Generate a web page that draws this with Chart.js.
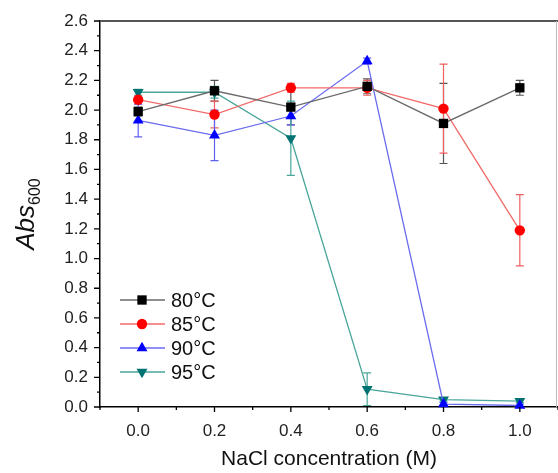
<!DOCTYPE html>
<html>
<head>
<meta charset="utf-8">
<script src="https://cdn.jsdelivr.net/npm/chart.js@4.4.1/dist/chart.umd.min.js"></script>
<style>
  html, body { margin: 0; padding: 0; background: #fff; }
</style>
</head>
<body>
<canvas id="chart" width="558" height="473"></canvas>
<script>
// NaCl concentration (M)
const nacl = [0.0, 0.2, 0.4, 0.6, 0.8, 1.0];

// Abs600 per temperature
const abs80 = [1.99, 2.13, 2.02, 2.16, 1.91, 2.15];
const abs85 = [2.07, 1.97, 2.15, 2.15, 2.01, 1.19];
const abs90 = [1.93, 1.83, 1.96, 2.33, 0.02, 0.01];
const abs95 = [2.12, 2.12, 1.81, 0.12, 0.05, 0.04];

// error bars (+/-)
const err80 = [0.03, 0.07, 0.12, 0.05, 0.27, 0.05];
const err85 = [0.03, 0.09, 0.03, 0.05, 0.30, 0.24];
const err90 = [0.11, 0.17, 0.06, 0.02, 0.01, 0.01];
const err95 = [0.02, 0.04, 0.25, 0.11, 0.01, 0.01];

const seriesLabels = ["80°C", "85°C", "90°C", "95°C"];
const xTicks = [0.0, 0.2, 0.4, 0.6, 0.8, 1.0];
const xMinorTicks = [-0.1, 0.1, 0.3, 0.5, 0.7, 0.9, 1.1];
const yTicks = [0.0, 0.2, 0.4, 0.6, 0.8, 1.0, 1.2, 1.4, 1.6, 1.8, 2.0, 2.2, 2.4, 2.6];
const yMinorTicks = [0.1, 0.3, 0.5, 0.7, 0.9, 1.1, 1.3, 1.5, 1.7, 1.9, 2.1, 2.3, 2.5];

const FONT = "'Liberation Sans', Arial, sans-serif";

// series styling
const styles = [
  { line: "#6a6a6a", mark: "#000000", err: "#555555", shape: "rect", radius: 6.6, rot: 0 },
  { line: "#f26b6b", mark: "#ff0000", err: "#f06060", shape: "circle", radius: 5.2, rot: 0 },
  { line: "#6b6bf0", mark: "#0000ff", err: "#6060f0", shape: "triangle", radius: 6.3, rot: 0 },
  { line: "#4aa69a", mark: "#007272", err: "#4aa69a", shape: "triangle", radius: 6.3, rot: 180 },
];

const values = [abs80, abs85, abs90, abs95];
const errors = [err80, err85, err90, err95];

const datasets = values.map((vals, i) => ({
  label: seriesLabels[i],
  data: nacl.map((x, j) => ({ x: x, y: vals[j] })),
  errors: errors[i],
  borderColor: styles[i].line,
  borderWidth: 1.3,
  backgroundColor: styles[i].mark,
  pointBackgroundColor: styles[i].mark,
  pointBorderColor: styles[i].mark,
  pointBorderWidth: 0,
  pointStyle: styles[i].shape,
  pointRadius: styles[i].radius,
  rotation: styles[i].rot,
  tension: 0,
  clip: false,
}));

// error bars drawn under the markers
const errorBars = {
  id: "errorBars",
  beforeDatasetsDraw(chart) {
    const ctx = chart.ctx;
    const xs = chart.scales.x;
    const ys = chart.scales.y;
    ctx.save();
    chart.data.datasets.forEach((ds, i) => {
      ctx.strokeStyle = styles[i].err;
      ctx.lineWidth = 1.2;
      ds.data.forEach((p, j) => {
        const e = ds.errors[j];
        const x = xs.getPixelForValue(p.x);
        const top = ys.getPixelForValue(p.y + e);
        const bot = ys.getPixelForValue(Math.max(0, p.y - e));
        ctx.beginPath();
        ctx.moveTo(x, top);
        ctx.lineTo(x, bot);
        ctx.moveTo(x - 4, top);
        ctx.lineTo(x + 4, top);
        ctx.moveTo(x - 4, bot);
        ctx.lineTo(x + 4, bot);
        ctx.stroke();
      });
    });
    ctx.restore();
  },
};

// tick marks, frame, y title and legend
const decorations = {
  id: "decorations",
  afterDraw(chart) {
    const ctx = chart.ctx;
    const area = chart.chartArea;
    const xs = chart.scales.x;
    const ys = chart.scales.y;
    ctx.save();

    // frame top / right
    ctx.strokeStyle = "#555";
    ctx.lineWidth = 2;
    ctx.beginPath();
    ctx.moveTo(area.left, area.top);
    ctx.lineTo(area.right, area.top);
    ctx.stroke();
    ctx.strokeStyle = "#bbb";
    ctx.lineWidth = 1;
    ctx.beginPath();
    ctx.moveTo(area.right - 1.5, area.top);
    ctx.lineTo(area.right - 1.5, area.bottom);
    ctx.stroke();

    // tick marks
    ctx.strokeStyle = "#000";
    ctx.lineWidth = 1.3;
    ctx.beginPath();
    xTicks.forEach(v => {
      const x = xs.getPixelForValue(v);
      ctx.moveTo(x, area.bottom);
      ctx.lineTo(x, area.bottom + 5);
    });
    xMinorTicks.forEach(v => {
      const x = xs.getPixelForValue(v);
      ctx.moveTo(x, area.bottom);
      ctx.lineTo(x, area.bottom + 3);
    });
    yTicks.forEach(v => {
      const y = ys.getPixelForValue(v);
      ctx.moveTo(area.left, y);
      ctx.lineTo(area.left - 6, y);
    });
    yMinorTicks.forEach(v => {
      const y = ys.getPixelForValue(v);
      ctx.moveTo(area.left, y);
      ctx.lineTo(area.left - 3, y);
    });
    ctx.stroke();

    // y axis title: Abs600
    ctx.save();
    ctx.translate(25, (area.top + area.bottom) / 2);
    ctx.rotate(-Math.PI / 2);
    ctx.fillStyle = "#111";
    ctx.textBaseline = "alphabetic";
    ctx.font = "italic 26px " + FONT;
    const w1 = ctx.measureText("Abs").width;
    ctx.font = "16px " + FONT;
    const w2 = ctx.measureText("600").width;
    const start = -(w1 + w2) / 2;
    ctx.font = "italic 26px " + FONT;
    ctx.fillText("Abs", start, 9);
    ctx.font = "16px " + FONT;
    ctx.fillText("600", start + w1, 15);
    ctx.restore();

    // legend
    const lx = area.left + 20;
    const ly = area.top + 279;
    chart.data.datasets.forEach((ds, i) => {
      const y = ly + i * 24;
      ctx.strokeStyle = styles[i].line;
      ctx.lineWidth = 1.3;
      ctx.beginPath();
      ctx.moveTo(lx, y);
      ctx.lineTo(lx + 45, y);
      ctx.stroke();
      ctx.fillStyle = styles[i].mark;
      ctx.strokeStyle = styles[i].mark;
      Chart.helpers.drawPoint(ctx, {
        pointStyle: styles[i].shape,
        radius: styles[i].radius,
        rotation: styles[i].rot,
        borderWidth: 0,
      }, lx + 22, y);
      ctx.fillStyle = "#111";
      ctx.font = "20px " + FONT;
      ctx.textBaseline = "middle";
      ctx.textAlign = "left";
      ctx.fillText(ds.label, lx + 51, y + 1);
    });

    ctx.restore();
  },
};

new Chart(document.getElementById("chart"), {
  type: "line",
  data: { datasets: datasets },
  options: {
    responsive: false,
    animation: false,
    layout: { autoPadding: false, padding: { top: 21, right: 0, left: 0, bottom: 0 } },
    plugins: {
      legend: { display: false },
      tooltip: { enabled: false },
    },
    scales: {
      x: {
        type: "linear",
        min: -0.1,
        max: 1.1,
        afterBuildTicks: (s) => { s.ticks = xTicks.map(v => ({ value: v })); },
        afterFit: (s) => { s.height = 66; s.paddingLeft = 0; s.paddingRight = 0; },
        grid: { display: false, drawTicks: false },
        border: { display: true, color: "#000", width: 1.5 },
        ticks: {
          padding: 14,
          autoSkip: false,
          maxRotation: 0,
          color: "#222",
          font: { family: FONT, size: 17 },
          callback: (v) => Number(v).toFixed(1),
        },
        title: {
          display: true,
          text: "NaCl concentration (M)",
          color: "#111",
          font: { family: FONT, size: 21 },
          padding: { top: 0, bottom: 1 },
        },
      },
      y: {
        type: "linear",
        min: 0,
        max: 2.6,
        afterBuildTicks: (s) => { s.ticks = yTicks.map(v => ({ value: v })); },
        afterFit: (s) => { s.width = 100; s.paddingTop = 0; s.paddingBottom = 0; },
        grid: { display: false, drawTicks: false },
        border: { display: true, color: "#000", width: 1.5 },
        ticks: {
          padding: 12,
          autoSkip: false,
          color: "#222",
          font: { family: FONT, size: 17 },
          callback: (v) => Number(v).toFixed(1),
        },
      },
    },
  },
  plugins: [errorBars, decorations],
});
</script>
</body>
</html>
